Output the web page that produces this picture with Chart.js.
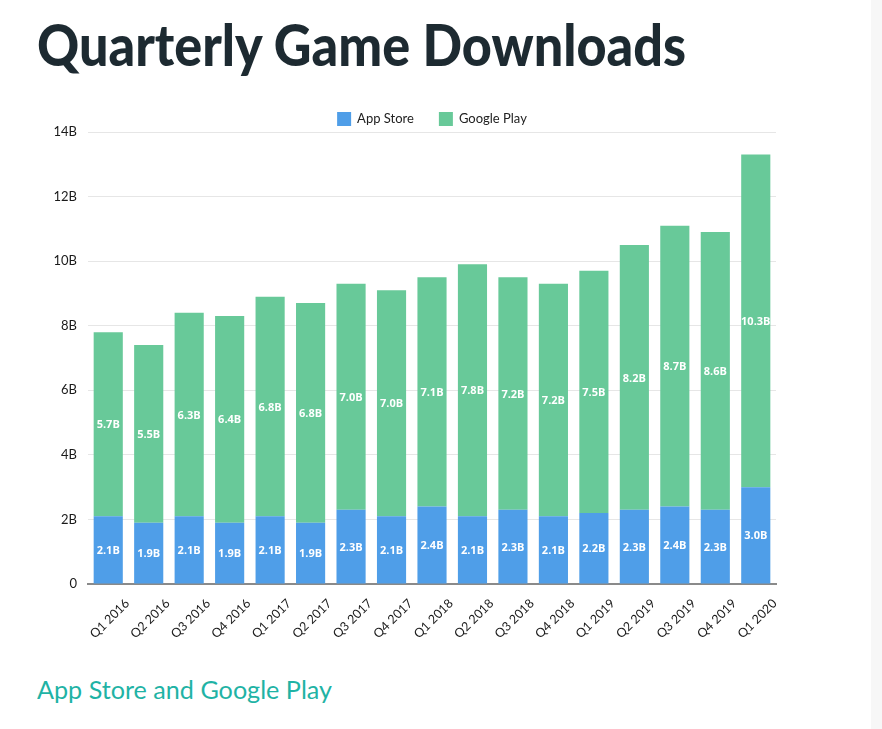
<!DOCTYPE html>
<html><head><meta charset="utf-8">
<script src="https://cdn.jsdelivr.net/npm/chart.js@4/dist/chart.umd.min.js"></script>
<style>
html,body{margin:0;padding:0;background:#fff;}
body{width:882px;height:729px;overflow:hidden;position:relative;}
#strip{position:absolute;left:871px;top:0;width:11px;height:729px;background:#f7f7f7;}
#title{position:absolute;left:37px;top:15px;margin:0;font:900 58px Lato;line-height:58px;color:#1d2a31;white-space:nowrap;transform-origin:0 0;}
#sub{position:absolute;left:37px;top:677px;margin:0;font:400 25px Lato;line-height:25px;color:#1fb3a5;white-space:nowrap;transform-origin:0 0;}
#wrap{position:absolute;left:0;top:90px;width:800px;height:560px;}
</style></head>
<body>
<div id="strip"></div>
<h1 id="title">Quarterly Game Downloads</h1>
<div id="sub">App Store and Google Play</div>
<div id="wrap"><canvas id="c"></canvas></div>
<script>
const categories = ['Q1 2016','Q2 2016','Q3 2016','Q4 2016','Q1 2017','Q2 2017','Q3 2017','Q4 2017','Q1 2018','Q2 2018','Q3 2018','Q4 2018','Q1 2019','Q2 2019','Q3 2019','Q4 2019','Q1 2020'];
const appStore = [2.1,1.9,2.1,1.9,2.1,1.9,2.3,2.1,2.4,2.1,2.3,2.1,2.2,2.3,2.4,2.3,3.0];
const googlePlay = [5.7,5.5,6.3,6.4,6.8,6.8,7.0,7.0,7.1,7.8,7.2,7.2,7.5,8.2,8.7,8.6,10.3];
const yTickValues = [0,2,4,6,8,10,12,14];
const seriesNames = ['App Store','Google Play'];
const seriesColors = ['#4f9ee8','#68c999'];

function fitWidth(id, target){
  const el = document.getElementById(id);
  const w = el.getBoundingClientRect().width;
  el.style.transform = 'scaleX(' + (target / w) + ')';
}

const barLabels = {
  id:'barLabels',
  afterDatasetsDraw(chart){
    const ctx = chart.ctx;
    ctx.save();
    ctx.font = '700 11px "Open Sans"';
    ctx.fillStyle = '#ffffff';
    ctx.textAlign = 'center';
    ctx.textBaseline = 'middle';
    chart.data.datasets.forEach((ds,i)=>{
      const meta = chart.getDatasetMeta(i);
      meta.data.forEach((el,j)=>{
        ctx.fillText(ds.data[j].toFixed(1)+'B', el.x, (el.y+el.base)/2 + 1);
      });
    });
    ctx.restore();
  }
};

const customLegend = {
  id:'customLegend',
  afterDraw(chart){
    const ctx = chart.ctx;
    const area = chart.chartArea;
    ctx.save();
    ctx.font = '400 13px Lato';
    ctx.textBaseline = 'middle';
    ctx.textAlign = 'left';
    const box = 14, gapText = 6, gapItem = 25;
    const items = chart.data.datasets.map(d=>({label:d.label,color:d.backgroundColor,w:ctx.measureText(d.label).width}));
    let total = 0;
    items.forEach((it,i)=>{ total += box + gapText + it.w + (i<items.length-1?gapItem:0); });
    let x = (area.left + area.right)/2 - total/2;
    const y = area.top - 13;
    items.forEach(it=>{
      ctx.fillStyle = it.color;
      ctx.fillRect(x, y - box/2, box, box);
      ctx.fillStyle = '#222222';
      ctx.fillText(it.label, x + box + gapText, y);
      x += box + gapText + it.w + gapItem;
    });
    ctx.restore();
  }
};

function draw(){
  fitWidth('title', 649);
  fitWidth('sub', 295);
  new Chart(document.getElementById('c'), {
    type:'bar',
    data:{
      labels:categories,
      datasets:[
        {label:seriesNames[0], data:appStore, backgroundColor:seriesColors[0], barPercentage:0.72, categoryPercentage:1},
        {label:seriesNames[1], data:googlePlay, backgroundColor:seriesColors[1], barPercentage:0.72, categoryPercentage:1}
      ]
    },
    options:{
      responsive:true,
      maintainAspectRatio:false,
      animation:false,
      layout:{padding:{top:42,right:24,left:0,bottom:0}},
      plugins:{legend:{display:false},tooltip:{enabled:false}},
      scales:{
        x:{
          stacked:true,
          grid:{display:false},
          border:{display:true,color:'#8a8a8a',width:2},
          ticks:{minRotation:45,maxRotation:45,autoSkip:false,color:'#1a1a1a',font:{family:'Lato',size:12.5},padding:4,labelOffset:19},
          afterFit(s){ s.height = 66; }
        },
        y:{
          stacked:true,
          min:0,max:14,
          afterBuildTicks(s){ s.ticks = yTickValues.map(v=>({value:v})); },
          grid:{color:'#e6e6e6',lineWidth:1,drawTicks:false},
          border:{display:false},
          ticks:{color:'#1a1a1a',font:{family:'Lato',size:13},padding:11,callback:v=>v===0?'0':v+'B'},
          afterFit(s){ s.width = 88; }
        }
      }
    },
    plugins:[barLabels, customLegend]
  });
}

Promise.all([
  document.fonts.load('400 12px Lato'),
  document.fonts.load('900 58px Lato'),
  document.fonts.load('700 11px "Open Sans"')
]).then(draw, draw);
</script>
</body></html>
